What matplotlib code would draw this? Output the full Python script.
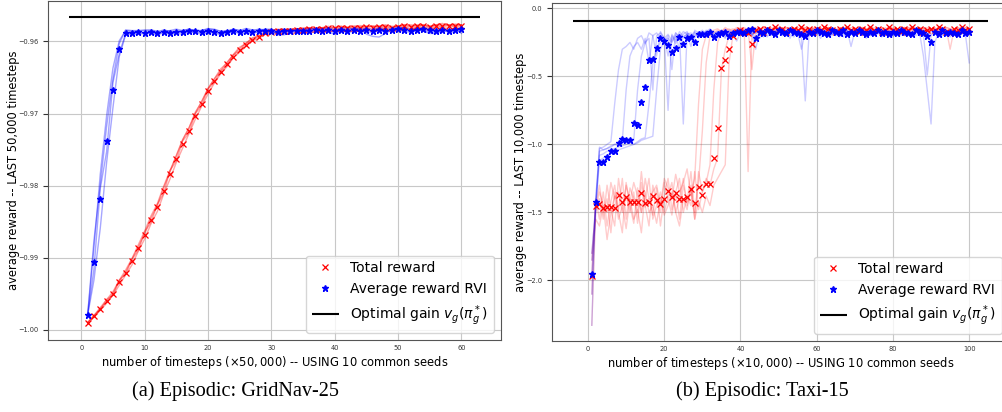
import matplotlib
matplotlib.use("Agg")
import matplotlib.pyplot as plt
import numpy as np

# ---------------- GridNav-25 (x = 1..60, units of 50,000 steps) ----------------
grid_steps = np.arange(1, 61)
grid_optimal = -0.95659

grid_total_mean = [
    -0.9990, -0.9981, -0.9971, -0.9960, -0.9950, -0.9934, -0.9921, -0.9905, -0.9887, -0.9868,
    -0.9848, -0.9830, -0.9807, -0.9784, -0.9763, -0.9742, -0.9724, -0.9703, -0.9687, -0.9669,
    -0.9655, -0.9643, -0.9632, -0.9621, -0.9612, -0.9605, -0.9598, -0.9594, -0.9589, -0.9587,
    -0.9586, -0.9585, -0.9585, -0.9584, -0.9584, -0.9583, -0.9583, -0.9583, -0.9582, -0.9582,
    -0.9581, -0.9582, -0.9581, -0.9581, -0.9580, -0.9581, -0.9580, -0.9580, -0.9581, -0.9580,
    -0.9579, -0.9580, -0.9579, -0.9579, -0.9580, -0.9579, -0.9578, -0.9579, -0.9578, -0.9578,
]
grid_rvi_mean = [
    -0.9980, -0.9906, -0.9819, -0.9738, -0.9667, -0.9611, -0.9588, -0.9588, -0.9587, -0.9588,
    -0.9587, -0.9588, -0.9587, -0.9588, -0.9587, -0.9587, -0.9586, -0.9586, -0.9587, -0.9586,
    -0.9587, -0.9588, -0.9587, -0.9586, -0.9587, -0.9586, -0.9587, -0.9586, -0.9585, -0.9586,
    -0.9587, -0.9585, -0.9586, -0.9585, -0.9586, -0.9585, -0.9584, -0.9585, -0.9584, -0.9585,
    -0.9584, -0.9585, -0.9584, -0.9585, -0.9584, -0.9585, -0.9584, -0.9585, -0.9584, -0.9583,
    -0.9584, -0.9585, -0.9584, -0.9583, -0.9584, -0.9585, -0.9584, -0.9585, -0.9584, -0.9583,
]

# per-seed deviation from the mean, in units of 1e-4
grid_rvi_seed_dev = [
    [0, -25, -40, -30, -25, -10, -3, -2, -3, -1,
     -2, -3, -1, -2, -2, -3, -1, -2, -3, -2,
     -1, -3, -2, -1, -2, -3, -2, -1, -2, -3,
     -1, -2, -2, -3, -1, -2, -3, -1, -2, -2,
     -1, -3, -2, -1, -2, -3, -1, -2, -2, -1,
     -3, -2, -1, -2, -3, -2, -1, -2, -3, -2],
    [0, 20, 35, 35, 30, 12, 3, 2, 1, 3,
     2, 1, 3, 2, 1, 2, 3, 1, 2, 3,
     4, 2, 1, 3, 2, 1, 2, 3, 1, 2,
     3, 2, 1, 2, 3, 1, 2, 2, 3, 1,
     2, 3, 1, 2, 2, 1, 3, 2, 1, 2,
     3, 1, 2, 2, 1, 3, 2, 1, 2, 1],
    [0, -10, 15, -15, 10, -6, -1, 1, -1, 0,
     1, -1, 0, 2, -1, 0, 1, -2, 0, 1,
     -1, 0, 2, -1, 0, 1, -1, 0, 1, -2,
     0, 1, -1, 0, 2, -1, 0, 1, -1, 0,
     1, -2, 0, 1, -1, 0, 2, -1, 0, 1,
     -1, 0, 1, -2, 0, 1, -1, 0, 1, 0],
    [0, 30, 20, 20, 15, 8, 4, 3, 2, 4,
     3, 2, 1, 3, 4, 2, 3, 1, 2, 4,
     3, 2, 1, 3, 2, 4, 3, 1, 2, 3,
     -4, -6, -2, 1, 2, 3, 1, 2, -3, -5,
     -2, 1, 2, 3, -6, -8, -10, -4, 1, 2,
     3, 1, 2, -3, -5, -4, -2, 1, 2, -6],
]
grid_total_seed_dev = [
    [0, 1, 2, 2, 3, 3, 4, 4, 5, 5,
     6, 5, 6, 5, 4, 5, 4, 3, 4, 3,
     3, 2, 3, 2, 2, 3, 2, 1, 2, 1,
     2, 1, 2, 1, 1, 2, 1, 2, 1, 1,
     2, 1, 2, 1, 1, 2, 1, 2, 1, 1,
     2, 1, 2, 1, 1, 2, 1, 2, 1, 1],
    [0, -1, -2, -3, -2, -4, -3, -5, -4, -6,
     -5, -6, -5, -7, -5, -6, -4, -5, -3, -4,
     -3, -2, -3, -2, -3, -2, -1, -2, -1, -2,
     -1, -2, -1, -1, -2, -1, -2, -1, -1, -2,
     -1, -2, -1, -1, -2, -1, -2, -1, -1, -2,
     -1, -2, -1, -1, -2, -1, -2, -1, -1, -2],
    [0, 1, -1, 2, -2, 3, -2, 3, -3, 4,
     -3, 4, -4, 5, -3, 4, -3, 3, -2, 3,
     -2, 2, -2, 2, -1, 2, -1, 1, -1, 2,
     -1, 1, -1, 2, -1, 1, -1, 2, -1, 1,
     -1, 2, -1, 1, -1, 2, -1, 1, -1, 2,
     -1, 1, -1, 2, -1, 1, -1, 2, -1, 1],
    [0, 0, 1, -1, 1, 2, 1, 3, 2, 1,
     3, 2, 4, 3, 5, 6, 4, 5, 3, 4,
     3, 5, 2, 3, 4, 2, 3, 2, 1, 2,
     3, 1, 2, 1, 3, 2, 1, 2, 3, 1,
     2, 1, 2, 3, 1, 2, 1, 3, 2, 1,
     2, 3, 1, 2, 1, 2, 3, 1, 2, 1],
]

# ---------------- Taxi-15 (x = 1..100, units of 10,000 steps) ----------------
taxi_steps = np.arange(1, 101)
taxi_optimal = -0.093

taxi_total_mean = [
    -1.97, -1.45, -1.44, -1.47, -1.46, -1.46, -1.47, -1.37, -1.42, -1.39,
    -1.42, -1.42, -1.42, -1.36, -1.43, -1.42, -1.38, -1.41, -1.44, -1.40,
    -1.34, -1.39, -1.36, -1.40, -1.40, -1.39, -1.33, -1.43, -1.31, -1.37,
    -1.29, -1.29, -1.10, -0.88, -0.44, -0.38, -0.30, -0.20, -0.17, -0.16,
    -0.17, -0.18, -0.26, -0.16, -0.15, -0.17, -0.15, -0.16, -0.14, -0.16,
    -0.15, -0.17, -0.16, -0.15, -0.16, -0.14, -0.16, -0.15, -0.17, -0.15,
    -0.16, -0.14, -0.15, -0.16, -0.17, -0.15, -0.16, -0.14, -0.16, -0.15,
    -0.17, -0.15, -0.16, -0.14, -0.16, -0.15, -0.17, -0.16, -0.14, -0.16,
    -0.15, -0.17, -0.15, -0.16, -0.14, -0.16, -0.15, -0.17, -0.16, -0.15,
    -0.16, -0.14, -0.15, -0.17, -0.18, -0.15, -0.16, -0.14, -0.16, -0.15,
]
taxi_rvi_mean = [
    -1.95, -1.42, -1.13, -1.13, -1.09, -1.05, -1.05, -0.99, -0.96, -0.97,
    -0.97, -0.84, -0.86, -0.69, -0.58, -0.38, -0.37, -0.29, -0.22, -0.24,
    -0.27, -0.32, -0.29, -0.21, -0.26, -0.22, -0.21, -0.25, -0.19, -0.19,
    -0.19, -0.17, -0.21, -0.19, -0.18, -0.17, -0.20, -0.18, -0.17, -0.17,
    -0.18, -0.16, -0.15, -0.22, -0.17, -0.18, -0.16, -0.17, -0.19, -0.16,
    -0.17, -0.18, -0.16, -0.17, -0.18, -0.19, -0.20, -0.17, -0.18, -0.16,
    -0.17, -0.18, -0.19, -0.16, -0.17, -0.18, -0.16, -0.19, -0.17, -0.18,
    -0.16, -0.17, -0.19, -0.17, -0.18, -0.16, -0.18, -0.17, -0.19, -0.17,
    -0.18, -0.16, -0.17, -0.18, -0.19, -0.16, -0.17, -0.18, -0.20, -0.25,
    -0.17, -0.19, -0.16, -0.18, -0.17, -0.18, -0.19, -0.16, -0.18, -0.17,
]

# individual seeds, in hundredths
taxi_rvi_seeds = [
    [-195, -150, -103, -102, -100, -98, -70, -45, -30, -28,
     -25, -30, -22, -20, -26, -18, -20, -35, -17, -22,
     -19, -24, -18, -21, -17, -19, -28, -16, -18, -20,
     -17, -15, -19, -22, -16, -18, -17, -21, -15, -18,
     -17, -19, -16, -24, -18, -17, -15, -20, -18, -16,
     -19, -17, -22, -16, -18, -30, -17, -19, -16, -18,
     -17, -20, -15, -19, -18, -16, -21, -17, -18, -15,
     -19, -17, -22, -16, -18, -17, -20, -16, -19, -17,
     -18, -16, -20, -17, -19, -15, -18, -35, -60, -85,
     -25, -17, -19, -16, -18, -20, -17, -19, -16, -18],
    [-233, -140, -105, -104, -103, -101, -100, -99, -97, -60,
     -35, -28, -25, -30, -22, -40, -20, -18, -22, -25,
     -20, -45, -18, -22, -19, -17, -23, -20, -18, -16,
     -19, -17, -21, -18, -16, -20, -17, -19, -24, -18,
     -16, -20, -18, -17, -22, -19, -16, -18, -20, -17,
     -18, -16, -19, -21, -17, -18, -20, -16, -19, -17,
     -22, -18, -16, -19, -17, -20, -18, -16, -28, -17,
     -16, -19, -18, -20, -17, -16, -19, -18, -17, -20,
     -16, -19, -18, -17, -20, -16, -18, -19, -49, -20,
     -17, -19, -16, -18, -21, -17, -19, -16, -18, -17],
    [-185, -143, -102, -104, -103, -102, -100, -101, -99, -98,
     -98, -97, -60, -35, -25, -22, -60, -20, -18, -22,
     -75, -19, -24, -17, -21, -19, -18, -22, -17, -19,
     -16, -18, -20, -17, -19, -22, -16, -18, -17, -20,
     -18, -16, -19, -30, -17, -18, -20, -16, -19, -17,
     -20, -18, -16, -19, -17, -22, -68, -18, -16, -19,
     -17, -19, -16, -18, -20, -17, -19, -16, -18, -17,
     -19, -16, -18, -20, -17, -19, -16, -18, -17, -21,
     -17, -19, -16, -18, -17, -20, -18, -16, -19, -17,
     -16, -18, -20, -17, -19, -16, -18, -17, -19, -40],
    [-210, -145, -108, -107, -105, -104, -103, -102, -101, -100,
     -99, -100, -98, -96, -95, -70, -40, -30, -25, -22,
     -35, -20, -26, -19, -85, -18, -20, -17, -22, -19,
     -18, -20, -17, -19, -16, -21, -18, -17, -19, -16,
     -20, -17, -19, -18, -16, -21, -18, -17, -19, -16,
     -18, -20, -17, -16, -19, -18, -17, -20, -16, -18,
     -19, -17, -18, -20, -16, -19, -17, -18, -16, -19,
     -18, -20, -16, -17, -19, -18, -16, -20, -17, -18,
     -19, -16, -18, -17, -20, -16, -19, -18, -17, -16,
     -18, -19, -17, -16, -20, -18, -17, -19, -16, -18],
    [-180, -147, -112, -110, -108, -106, -105, -104, -103, -102,
     -101, -100, -99, -97, -96, -95, -94, -60, -30, -24,
     -22, -25, -20, -30, -21, -19, -23, -18, -20, -17,
     -21, -18, -19, -17, -20, -16, -22, -18, -17, -19,
     -18, -17, -20, -16, -19, -18, -21, -17, -16, -19,
     -17, -20, -18, -16, -19, -17, -18, -20, -16, -18,
     -20, -17, -19, -16, -18, -21, -17, -19, -16, -18,
     -17, -19, -20, -16, -18, -17, -21, -19, -16, -18,
     -17, -20, -16, -19, -18, -17, -20, -16, -18, -19,
     -16, -18, -17, -20, -19, -16, -18, -17, -19, -16],
]
taxi_total_seeds = [
    [-233, -150, -140, -155, -130, -148, -160, -125, -145, -138,
     -150, -135, -158, -128, -146, -140, -152, -132, -160, -138,
     -125, -148, -135, -155, -130, -142, -120, -150, -128, -90,
     -40, -20, -18, -16, -17, -15, -18, -16, -14, -17,
     -15, -16, -14, -17, -15, -18, -16, -14, -15, -17,
     -16, -14, -17, -15, -16, -18, -14, -16, -15, -17,
     -14, -16, -15, -17, -16, -14, -18, -15, -16, -14,
     -17, -15, -16, -14, -18, -16, -15, -17, -14, -16,
     -15, -17, -16, -14, -15, -18, -16, -14, -17, -15,
     -16, -14, -15, -17, -16, -15, -14, -17, -16, -15],
    [-210, -140, -155, -135, -160, -142, -130, -150, -165, -128,
     -145, -158, -132, -150, -140, -125, -155, -145, -135, -150,
     -138, -128, -150, -140, -125, -145, -132, -155, -120, -135,
     -128, -115, -60, -25, -18, -16, -15, -17, -16, -14,
     -16, -120, -17, -15, -16, -14, -17, -15, -16, -18,
     -15, -17, -14, -16, -15, -17, -16, -14, -15, -16,
     -17, -15, -14, -16, -18, -15, -16, -14, -17, -15,
     -16, -14, -15, -17, -16, -15, -18, -14, -16, -15,
     -17, -16, -14, -15, -16, -17, -15, -14, -16, -15,
     -14, -16, -17, -15, -30, -16, -14, -15, -17, -16],
    [-195, -145, -130, -150, -140, -165, -135, -148, -125, -155,
     -132, -140, -150, -120, -145, -160, -130, -142, -150, -128,
     -140, -152, -135, -125, -150, -138, -145, -120, -148, -135,
     -125, -130, -118, -110, -45, -30, -20, -17, -16, -15,
     -17, -15, -45, -16, -14, -17, -15, -16, -14, -17,
     -16, -15, -17, -14, -16, -15, -18, -16, -14, -15,
     -16, -17, -15, -14, -16, -15, -17, -16, -14, -15,
     -17, -16, -15, -14, -16, -17, -15, -16, -14, -17,
     -15, -16, -14, -17, -15, -16, -17, -15, -14, -16,
     -15, -17, -16, -14, -15, -16, -17, -14, -16, -15],
    [-185, -155, -160, -145, -170, -150, -138, -155, -145, -162,
     -140, -155, -148, -165, -135, -150, -145, -158, -140, -152,
     -145, -135, -150, -160, -140, -148, -130, -155, -142, -150,
     -138, -145, -130, -125, -120, -115, -40, -20, -17, -15,
     -16, -15, -17, -14, -16, -15, -17, -16, -15, -14,
     -16, -17, -15, -16, -14, -15, -17, -16, -15, -14,
     -15, -16, -14, -17, -15, -16, -15, -14, -16, -17,
     -15, -14, -16, -15, -17, -16, -14, -15, -16, -15,
     -16, -15, -17, -14, -16, -15, -14, -17, -15, -16,
     -17, -15, -14, -16, -15, -17, -16, -15, -14, -16],
    [-180, -148, -135, -145, -150, -128, -140, -135, -150, -130,
     -142, -128, -138, -150, -125, -140, -135, -130, -145, -125,
     -132, -140, -122, -135, -128, -118, -138, -125, -70, -30,
     -20, -18, -16, -15, -17, -14, -16, -15, -17, -15,
     -14, -16, -15, -17, -16, -14, -15, -16, -17, -15,
     -16, -14, -15, -17, -16, -15, -14, -16, -15, -17,
     -15, -16, -14, -15, -17, -16, -15, -14, -16, -15,
     -14, -16, -17, -15, -14, -16, -15, -17, -16, -14,
     -16, -15, -14, -17, -15, -16, -14, -15, -17, -16,
     -15, -17, -16, -14, -15, -16, -15, -17, -14, -16],
]

optimal_label = r"Optimal gain $v_g(\pi_g^*)$"


def draw_panel(ax, steps, total_seeds, rvi_seeds, total_mean, rvi_mean, optimal, xfrom, xto, seed_alpha):
    # faint lines for each seed
    for s in total_seeds:
        ax.plot(steps, s, color="red", alpha=seed_alpha, lw=1)
    for s in rvi_seeds:
        ax.plot(steps, s, color="blue", alpha=seed_alpha, lw=1)
    ax.plot(steps, total_mean, "x", color="red", ms=4, mew=0.9, label="Total reward")
    ax.plot(steps, rvi_mean, "*", color="blue", ms=5, label="Average reward RVI")
    ax.hlines(optimal, xfrom, xto, color="black", lw=1.5, label=optimal_label)
    ax.grid(True, color="#c8c8c8", lw=0.8)
    ax.tick_params(labelsize=4.8, colors="#333333")
    ax.tick_params(axis="x", length=0, pad=3.5)
    for sp in ax.spines.values():
        sp.set_color("#555555")
    ax.legend(loc="lower right", fontsize=10)


fig = plt.figure(figsize=(10.02, 4.12), dpi=100)
ax1 = fig.add_axes([48 / 1002, 72 / 412, 453 / 1002, 339 / 412])
ax2 = fig.add_axes([552 / 1002, 71 / 412, 457 / 1002, 338 / 412])

g_total = [np.array(grid_total_mean) + np.array(d) * 1e-4 for d in grid_total_seed_dev]
g_rvi = [np.array(grid_rvi_mean) + np.array(d) * 1e-4 for d in grid_rvi_seed_dev]
draw_panel(ax1, grid_steps, g_total, g_rvi, grid_total_mean, grid_rvi_mean, grid_optimal, -2, 63, 0.35)
ax1.set_xlim(-5.25, 66.25)
ax1.set_ylim(-1.0014, -0.9544)
ax1.set_xlabel(r"number of timesteps $(\times 50,000)$ -- USING 10 common seeds", fontsize=8.3)
ax1.set_ylabel("average reward -- LAST 50,000 timesteps", fontsize=8.3)
ax1.xaxis.set_label_coords(0.5, -0.041)
ax1.yaxis.set_label_coords(-0.0618, 0.5)

t_total = [np.array(s) / 100 for s in taxi_total_seeds]
t_rvi = [np.array(s) / 100 for s in taxi_rvi_seeds]
draw_panel(ax2, taxi_steps, t_total, t_rvi, taxi_total_mean, taxi_rvi_mean, taxi_optimal, -4, 105, 0.2)
ax2.set_xlim(-9.45, 110.45)
ax2.set_ylim(-2.446, 0.04)
ax2.set_xticks([0, 20, 40, 60, 80, 100])
ax2.set_xlabel(r"number of timesteps $(\times 10,000)$ -- USING 10 common seeds", fontsize=8.3)
ax2.set_ylabel("average reward -- LAST 10,000 timesteps", fontsize=8.3)
ax2.xaxis.set_label_coords(0.5, -0.041)
ax2.yaxis.set_label_coords(-0.0547, 0.5)

fig.text(236 / 1002, 1 - 391 / 412, "(a) Episodic: GridNav-25", ha="center", va="center",
         family="Liberation Serif", fontsize=14.6)
fig.text(762 / 1002, 1 - 391 / 412, "(b) Episodic: Taxi-15", ha="center", va="center",
         family="Liberation Serif", fontsize=14.6)

fig.savefig("out.png", dpi=100)
